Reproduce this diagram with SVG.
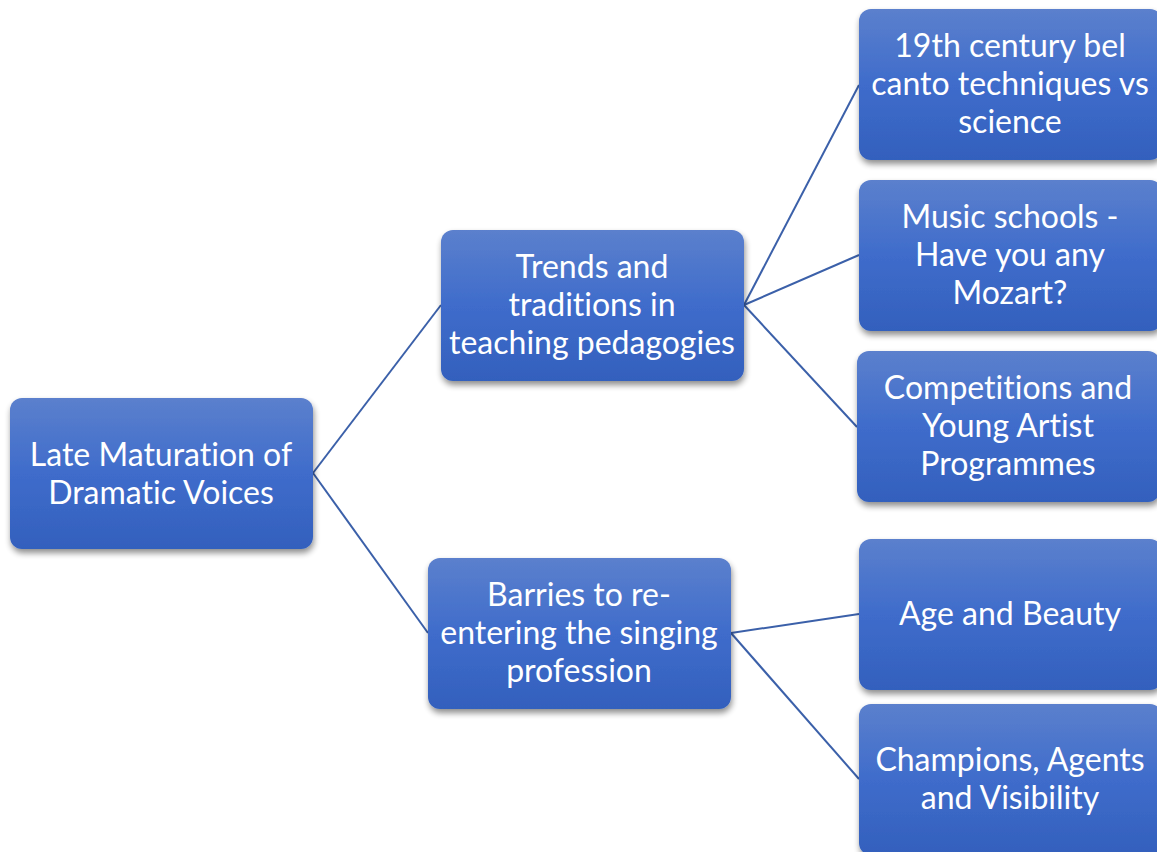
<svg xmlns="http://www.w3.org/2000/svg" width="1157" height="852" viewBox="0 0 1157 852">
<defs>
<linearGradient id="g" x1="0" y1="0" x2="0" y2="1">
<stop offset="0" stop-color="#5b80cd"/>
<stop offset="0.5" stop-color="#3f6ccb"/>
<stop offset="1" stop-color="#3360bd"/>
</linearGradient>
<filter id="sh" x="-10%" y="-10%" width="125%" height="130%">
<feGaussianBlur in="SourceAlpha" stdDeviation="3"/>
<feOffset dx="1" dy="4" result="b"/>
<feComponentTransfer><feFuncA type="linear" slope="0.45"/></feComponentTransfer>
<feMerge><feMergeNode/><feMergeNode in="SourceGraphic"/></feMerge>
</filter>
</defs>
<style>
.box{fill:url(#g);filter:url(#sh)}
.t{font-family:Lato,"Open Sans",sans-serif;font-size:32px;fill:#fff;text-anchor:middle;font-variant-ligatures:none}
.c{stroke:#3b60a9;stroke-width:2;fill:none}
</style>
<rect width="1157" height="852" fill="#fff"/>
<g id="connectors">
<line class="c" x1="313" y1="473" x2="441" y2="305"/>
<line class="c" x1="313" y1="473" x2="428" y2="633"/>
<line class="c" x1="744" y1="305" x2="859" y2="85"/>
<line class="c" x1="744" y1="305" x2="859" y2="255"/>
<line class="c" x1="744" y1="305" x2="857" y2="427"/>
<line class="c" x1="731" y1="633" x2="859" y2="614"/>
<line class="c" x1="731" y1="633" x2="859" y2="779"/>
</g>
<g id="root">
<rect class="box" x="10" y="398" width="303" height="151" rx="12"/>
<text class="t" x="161" y="466">Late Maturation of</text>
<text class="t" x="161" y="504">Dramatic Voices</text>
</g>
<g id="trends">
<rect class="box" x="441" y="230" width="303" height="151" rx="12"/>
<text class="t" x="592" y="278">Trends and</text>
<text class="t" x="592" y="316">traditions in</text>
<text class="t" x="592" y="354">teaching pedagogies</text>
</g>
<g id="barries">
<rect class="box" x="428" y="558" width="303" height="151" rx="12"/>
<text class="t" x="579" y="606">Barries to re-</text>
<text class="t" x="579" y="644">entering the singing</text>
<text class="t" x="579" y="682">profession</text>
</g>
<g id="belcanto">
<rect class="box" x="859" y="9" width="303" height="151" rx="12"/>
<text class="t" x="1010" y="57">19th century bel</text>
<text class="t" x="1010" y="95">canto techniques vs</text>
<text class="t" x="1010" y="133">science</text>
</g>
<g id="music">
<rect class="box" x="859" y="180" width="303" height="151" rx="12"/>
<text class="t" x="1010" y="228">Music schools -</text>
<text class="t" x="1010" y="266">Have you any</text>
<text class="t" x="1010" y="304">Mozart?</text>
</g>
<g id="competitions">
<rect class="box" x="857" y="351" width="303" height="151" rx="12"/>
<text class="t" x="1008" y="399">Competitions and</text>
<text class="t" x="1008" y="437">Young Artist</text>
<text class="t" x="1008" y="475">Programmes</text>
</g>
<g id="age">
<rect class="box" x="859" y="539" width="303" height="151" rx="12"/>
<text class="t" x="1010" y="625">Age and Beauty</text>
</g>
<g id="champions">
<rect class="box" x="859" y="704" width="303" height="151" rx="12"/>
<text class="t" x="1010" y="771">Champions, Agents</text>
<text class="t" x="1010" y="809">and Visibility</text>
</g>
</svg>
